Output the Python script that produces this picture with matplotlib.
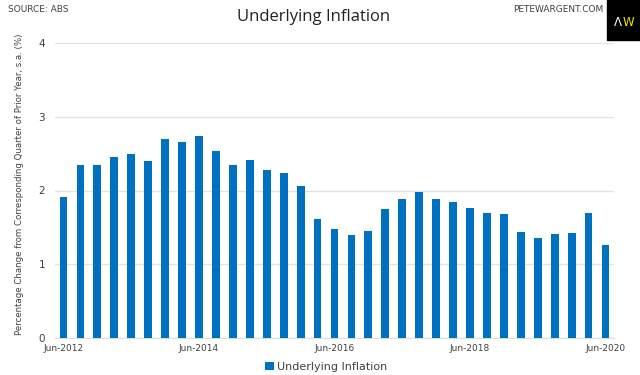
import matplotlib
matplotlib.use('Agg')
import matplotlib.pyplot as plt
import numpy as np
from matplotlib.patches import Rectangle

# quarterly, Jun-2012 .. Jun-2020
quarters = ['Jun-2012', 'Sep-2012', 'Dec-2012', 'Mar-2013',
            'Jun-2013', 'Sep-2013', 'Dec-2013', 'Mar-2014',
            'Jun-2014', 'Sep-2014', 'Dec-2014', 'Mar-2015',
            'Jun-2015', 'Sep-2015', 'Dec-2015', 'Mar-2016',
            'Jun-2016', 'Sep-2016', 'Dec-2016', 'Mar-2017',
            'Jun-2017', 'Sep-2017', 'Dec-2017', 'Mar-2018',
            'Jun-2018', 'Sep-2018', 'Dec-2018', 'Mar-2019',
            'Jun-2019', 'Sep-2019', 'Dec-2019', 'Mar-2020',
            'Jun-2020']
inflation = [1.91, 2.35, 2.35, 2.46, 2.50, 2.40, 2.70, 2.66,
             2.74, 2.54, 2.34, 2.41, 2.28, 2.24, 2.06, 1.61,
             1.48, 1.39, 1.45, 1.75, 1.89, 1.98, 1.88, 1.84,
             1.76, 1.70, 1.68, 1.44, 1.36, 1.41, 1.42, 1.70,
             1.26]
yticks = [0, 1, 2, 3, 4]
shown_labels = ['Jun-2012', 'Jun-2014', 'Jun-2016', 'Jun-2018', 'Jun-2020']

bar_color = '#0070C0'
text_color = '#404040'

fig = plt.figure(figsize=(6.4, 3.75), dpi=100)
ax = fig.add_axes([55/640, 1 - 338/375, 559/640, 295/375])

x = np.arange(len(quarters))
ax.bar(x, inflation, width=0.46, color=bar_color, zorder=3,
       label='Underlying Inflation')

ax.set_xlim(-0.5, len(quarters) - 0.5)
ax.set_ylim(0, 4)
ax.set_yticks(yticks)
ax.set_yticklabels([str(t) for t in yticks], fontsize=7.5, color=text_color)
ax.yaxis.grid(True, color='#e3e3e3', linewidth=1, zorder=0)
ax.tick_params(axis='both', length=0)
ax.tick_params(axis='y', pad=7)

ticks = [quarters.index(q) for q in shown_labels]
ax.set_xticks(ticks)
ax.set_xticklabels(shown_labels, fontsize=6.5, color=text_color)
ax.tick_params(axis='x', pad=4)

for s in ['top', 'right', 'left']:
    ax.spines[s].set_visible(False)
ax.spines['bottom'].set_color('#dddddd')

ax.set_ylabel('Percentage Change from Corresponding Quarter of Prior Year, s.a. (%)',
              fontsize=6.2, color=text_color)
ax.yaxis.set_label_coords(-31/559, 0.52)

fig.text(0.49, 0.955, 'Underlying Inflation', ha='center', va='center',
         fontsize=12, family='Open Sans', color='#222222')
fig.text(8/640, 0.975, 'SOURCE: ABS', ha='left', va='center',
         fontsize=6.5, color=text_color)
fig.text(603/640, 0.975, 'PETEWARGENT.COM', ha='right', va='center',
         fontsize=6.5, color=text_color)

# logo box
fig.patches.append(Rectangle((607/640, 1 - 40/375), 33/640, 40/375,
                             transform=fig.transFigure, color='black'))
fig.text(618/640, 1 - 22/375, 'Λ', ha='center', va='center',
         fontsize=8.5, color='white')
fig.text(628/640, 1 - 22/375, 'W', ha='center', va='center',
         fontsize=8.5, color='#f2e600')

fig.legend(*ax.get_legend_handles_labels(), loc='center',
           bbox_to_anchor=(326/640, 1 - 367/375), frameon=False,
           fontsize=8, handlelength=0.8, handleheight=0.8, handletextpad=0.3,
           labelcolor=text_color, borderpad=0)

fig.savefig('out.png', dpi=100)
